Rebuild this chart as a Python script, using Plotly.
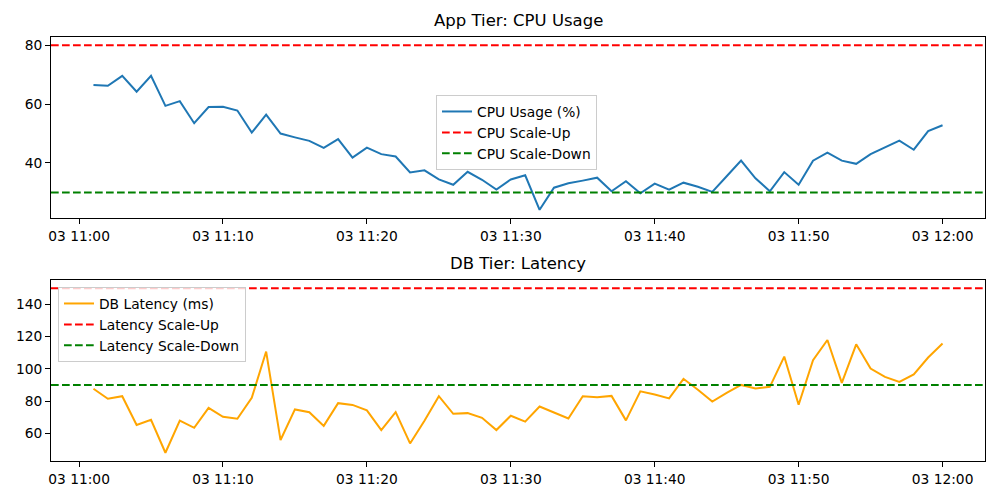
import pandas as pd
import plotly.graph_objects as go

# ---- data ----
times = pd.date_range("2024-01-03 11:01", "2024-01-03 12:00", freq="1min")
cpu_usage = [66.5, 66.2, 69.6, 64.2, 69.6, 59.4, 61.0, 53.5, 59.0, 59.1,
             57.8, 50.3, 56.4, 50.0, 48.7, 47.5, 45.1, 48.1, 41.8, 45.2,
             43.0, 42.2, 36.8, 37.5, 34.4, 32.6, 37.0, 34.3, 31.0, 34.4,
             35.8, 24.1, 31.6, 33.1, 34.0, 35.0, 30.4, 33.8, 29.7, 33.0,
             30.9, 33.3, 31.9, 30.2, 35.5, 40.8, 34.8, 30.4, 36.9, 32.6,
             40.8, 43.5, 40.8, 39.7, 43.0, 45.4, 47.6, 44.5, 50.8, 52.8]
db_latency = [87.6, 81.4, 83.0, 65.1, 68.4, 47.9, 67.8, 63.4, 75.8, 70.2,
              69.0, 82.0, 110.7, 55.8, 74.8, 73.1, 64.6, 78.7, 77.6, 74.2,
              62.0, 73.1, 53.7, 67.8, 83.0, 72.1, 72.5, 69.6, 62.0, 70.9,
              67.2, 76.6, 72.9, 69.2, 83.0, 82.4, 83.2, 68.0, 86.0, 84.1,
              81.6, 93.8, 87.0, 79.7, 85.1, 90.0, 87.8, 88.8, 107.6, 77.7,
              105.3, 117.9, 91.3, 115.2, 100.2, 95.0, 91.9, 96.5, 107.0, 115.7]
cpu_scale_up = 80
cpu_scale_down = 30
lat_scale_up = 150
lat_scale_down = 90
cpu_yticks = [40, 60, 80]
lat_yticks = [60, 80, 100, 120, 140]

# ---- layout helpers ----
span = times[-1] - times[0]
x0 = times[0] - span * 0.05
x1 = times[-1] + span * 0.05
edge = [x0, x1]

FONT = "DejaVu Sans, Arial, sans-serif"
dash = "7.7px,3.3px"

fig = go.Figure()
fig.add_trace(go.Scatter(x=times, y=cpu_usage, mode="lines", name="CPU Usage (%)",
                         line=dict(color="#1f77b4", width=2), xaxis="x", yaxis="y", legend="legend"))
fig.add_trace(go.Scatter(x=edge, y=[cpu_scale_up] * 2, mode="lines", name="CPU Scale-Up",
                         line=dict(color="red", width=2, dash=dash), xaxis="x", yaxis="y", legend="legend"))
fig.add_trace(go.Scatter(x=edge, y=[cpu_scale_down] * 2, mode="lines", name="CPU Scale-Down",
                         line=dict(color="green", width=2, dash=dash), xaxis="x", yaxis="y", legend="legend"))

fig.add_trace(go.Scatter(x=times, y=db_latency, mode="lines", name="DB Latency (ms)",
                         line=dict(color="orange", width=2), xaxis="x2", yaxis="y2", legend="legend2"))
fig.add_trace(go.Scatter(x=edge, y=[lat_scale_up] * 2, mode="lines", name="Latency Scale-Up",
                         line=dict(color="red", width=2, dash=dash), xaxis="x2", yaxis="y2", legend="legend2"))
fig.add_trace(go.Scatter(x=edge, y=[lat_scale_down] * 2, mode="lines", name="Latency Scale-Down",
                         line=dict(color="green", width=2, dash=dash), xaxis="x2", yaxis="y2", legend="legend2"))

ax_common = dict(showline=True, linecolor="black", linewidth=1, mirror=True,
                 ticks="outside", ticklen=5, tickwidth=1, tickcolor="black",
                 showgrid=False, zeroline=False, automargin=False,
                 tickfont=dict(family=FONT, size=13.8, color="black"))

x_common = dict(ax_common, type="date", range=edge, dtick=600000, tickformat="%d %H:%M",
                tick0="2024-01-03 11:00")

all_cpu = cpu_usage + [cpu_scale_up, cpu_scale_down]
all_lat = db_latency + [lat_scale_up, lat_scale_down]
def pad(v):
    lo, hi = min(v), max(v)
    m = (hi - lo) * 0.05
    return [lo - m, hi + m]

top_dom = [(461 - 218) / 424, 1.0]
bot_dom = [0.0, 181 / 424]

legend_style = dict(bgcolor="rgba(255,255,255,0.8)", bordercolor="#cccccc", borderwidth=1,
                    font=dict(family=FONT, size=13.8, color="black"),
                    xanchor="left", yanchor="top", tracegroupgap=0, itemwidth=30)

fig.update_layout(
    width=1000, height=500,
    margin=dict(l=51, r=15, t=37, b=39, autoexpand=False),
    paper_bgcolor="white", plot_bgcolor="white",
    font=dict(family=FONT, color="black"),
    showlegend=True,
    xaxis=dict(x_common, domain=[0, 1], anchor="y"),
    yaxis=dict(ax_common, domain=top_dom, range=pad(all_cpu), tickvals=cpu_yticks, anchor="x"),
    xaxis2=dict(x_common, domain=[0, 1], anchor="y2"),
    yaxis2=dict(ax_common, domain=bot_dom, range=pad(all_lat), tickvals=lat_yticks, anchor="x2"),
    legend=dict(legend_style, x=(436 - 51) / 934, y=(461 - 95) / 424),
    legend2=dict(legend_style, x=(58 - 51) / 934, y=(461 - 287) / 424),
    annotations=[
        dict(text="App Tier: CPU Usage", xref="paper", yref="paper", x=0.5, y=top_dom[1],
             xanchor="center", yanchor="bottom", yshift=5, showarrow=False,
             font=dict(family=FONT, size=16.5, color="black")),
        dict(text="DB Tier: Latency", xref="paper", yref="paper", x=0.5, y=bot_dom[1],
             xanchor="center", yanchor="bottom", yshift=5, showarrow=False,
             font=dict(family=FONT, size=16.5, color="black")),
    ],
)

fig.write_html("out.html", config={"displayModeBar": False},
               post_script="document.body.style.margin='0';")
